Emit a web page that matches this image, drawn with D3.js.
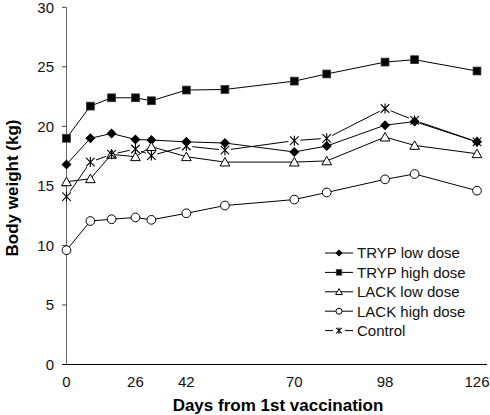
<!DOCTYPE html>
<html><head><meta charset="utf-8">
<script src="https://cdn.jsdelivr.net/npm/d3@7"></script>
<style>body{margin:0;background:#fff;}svg{display:block;font-family:"Liberation Sans",Arial,sans-serif;}</style>
</head><body>
<svg id="c" width="490" height="415"></svg>
<script>
const days = [0, 9, 17, 26, 31, 42, 52, 70, 80, 98, 107, 126];
const xTickValues = [0, 26, 42, 70, 98, 126];
const yTickValues = [0, 5, 10, 15, 20, 25, 30];
const seriesNames = ["TRYP low dose", "TRYP high dose", "LACK low dose", "LACK high dose", "Control"];
const trypLow  = [16.8, 19.0, 19.4, 18.9, 18.85, 18.7, 18.6, 17.85, 18.35, 20.1, 20.4, 18.7];
const trypHigh = [19.0, 21.7, 22.4, 22.4, 22.15, 23.05, 23.1, 23.8, 24.4, 25.4, 25.6, 24.65];
const lackLow  = [15.35, 15.6, 17.65, 17.45, 18.3, 17.45, 17.0, 17.0, 17.1, 19.1, 18.4, 17.7];
const lackHigh = [9.6, 12.05, 12.2, 12.35, 12.15, 12.7, 13.35, 13.85, 14.45, 15.55, 16.0, 14.6];
const control  = [14.1, 17.0, 17.65, 18.1, 17.55, 18.35, 18.0, 18.8, 19.0, 21.5, 20.5, 18.7];

const series = [trypLow, trypHigh, lackLow, lackHigh, control];
const markers = ["diamond", "square", "triangle", "circle", "star"];

(function () {
const svg = d3.select("#c");
const pLeft = 66.5, pRight = 477, pTop = 7.3, pBottom = 364.5;
const W = pRight - pLeft;
// x axis in the original is not uniformly spaced between labelled days
const x = d3.scaleLinear()
  .domain(xTickValues)
  .range([0, 0.168, 0.292, 0.555, 0.776, 1].map(f => pLeft + f * W));
const y = d3.scaleLinear().domain([0, 30]).range([pBottom, pTop]);

// y axis
svg.append("line").attr("x1", pLeft).attr("x2", pLeft).attr("y1", pTop).attr("y2", pBottom)
  .attr("stroke", "#666").attr("stroke-width", 1);
yTickValues.forEach(v => {
  svg.append("line").attr("x1", pLeft - 4.5).attr("x2", pLeft).attr("y1", y(v)).attr("y2", y(v))
    .attr("stroke", "#444");
  svg.append("text").attr("x", pLeft - 12.5).attr("y", y(v)).attr("dy", "0.36em")
    .attr("text-anchor", "end").attr("font-size", 15).attr("fill", "#111").text(v);
});
// x axis
svg.append("line").attr("x1", pLeft - 4.5).attr("x2", 487).attr("y1", pBottom).attr("y2", pBottom)
  .attr("stroke", "#000").attr("stroke-width", 1);
xTickValues.forEach(v => {
  svg.append("text").attr("x", x(v)).attr("y", 387).attr("text-anchor", "middle")
    .attr("font-size", 15).attr("fill", "#111").text(v);
});
svg.append("text").attr("x", 278).attr("y", 411).attr("text-anchor", "middle")
  .attr("font-size", 17).attr("font-weight", "bold").text("Days from 1st vaccination");
svg.append("text").attr("transform", "translate(18,188) rotate(-90)").attr("text-anchor", "middle")
  .attr("font-size", 17).attr("font-weight", "bold").text("Body weight (kg)");

function drawMarker(g, type, cx, cy, s) {
  if (type === "diamond") {
    g.append("path").attr("d", `M${cx},${cy - s}L${cx + s},${cy}L${cx},${cy + s}L${cx - s},${cy}Z`).attr("fill", "#000");
  } else if (type === "square") {
    g.append("rect").attr("x", cx - s * 0.85).attr("y", cy - s * 0.85).attr("width", s * 1.7).attr("height", s * 1.7)
      .attr("fill", "#000").attr("stroke", "#333").attr("stroke-width", 0.8);
  } else if (type === "triangle") {
    g.append("path").attr("d", `M${cx},${cy - s}L${cx + s * 1.05},${cy + s * 0.85}L${cx - s * 1.05},${cy + s * 0.85}Z`)
      .attr("fill", "#fff").attr("stroke", "#000").attr("stroke-width", 1);
  } else if (type === "circle") {
    g.append("circle").attr("cx", cx).attr("cy", cy).attr("r", s * 0.95).attr("fill", "#fff").attr("stroke", "#000").attr("stroke-width", 1);
  } else if (type === "star") {
    const a = s * 0.85;
    g.append("path").attr("d", `M${cx - a},${cy - a}L${cx + a},${cy + a}M${cx + a},${cy - a}L${cx - a},${cy + a}M${cx},${cy - s}L${cx},${cy + s}`)
      .attr("stroke", "#000").attr("stroke-width", 1.1).attr("fill", "none");
  }
}

function gappedSegments(g, pts, gap) {
  for (let i = 0; i < pts.length - 1; i++) {
    const [x1, y1] = pts[i], [x2, y2] = pts[i + 1];
    const d = Math.hypot(x2 - x1, y2 - y1), ux = (x2 - x1) / d, uy = (y2 - y1) / d;
    g.append("line").attr("x1", x1 + ux * gap).attr("y1", y1 + uy * gap)
      .attr("x2", x2 - ux * gap).attr("y2", y2 - uy * gap).attr("stroke", "#000").attr("stroke-width", 1);
  }
}

const line = d3.line().x(d => d[0]).y(d => d[1]);
series.forEach((vals, i) => {
  const g = svg.append("g");
  const pts = vals.map((v, j) => [x(days[j]), y(v)]);
  if (markers[i] === "star") gappedSegments(g, pts, 6);
  else g.append("path").attr("d", line(pts)).attr("fill", "none").attr("stroke", "#000").attr("stroke-width", 1);
  pts.forEach(p => drawMarker(g, markers[i], p[0], p[1], markers[i] === "diamond" ? 5 : (markers[i] === "star" ? 5 : 4.6)));
});

// legend
const lg = svg.append("g");
seriesNames.forEach((name, i) => {
  const cy = 253 + i * 19.4;
  if (markers[i] === "star") {
    lg.append("line").attr("x1", 325).attr("x2", 333).attr("y1", cy).attr("y2", cy).attr("stroke", "#000");
    lg.append("line").attr("x1", 345).attr("x2", 353).attr("y1", cy).attr("y2", cy).attr("stroke", "#000");
  } else {
    lg.append("line").attr("x1", 325).attr("x2", 353).attr("y1", cy).attr("y2", cy).attr("stroke", "#000");
  }
  drawMarker(lg, markers[i], 339, cy, markers[i] === "diamond" ? 3.6 : 3.2);
  lg.append("text").attr("x", 357).attr("y", cy).attr("dy", "0.36em").attr("font-size", 15).attr("fill", "#111").text(name);
});
})();
</script>
</body></html>
